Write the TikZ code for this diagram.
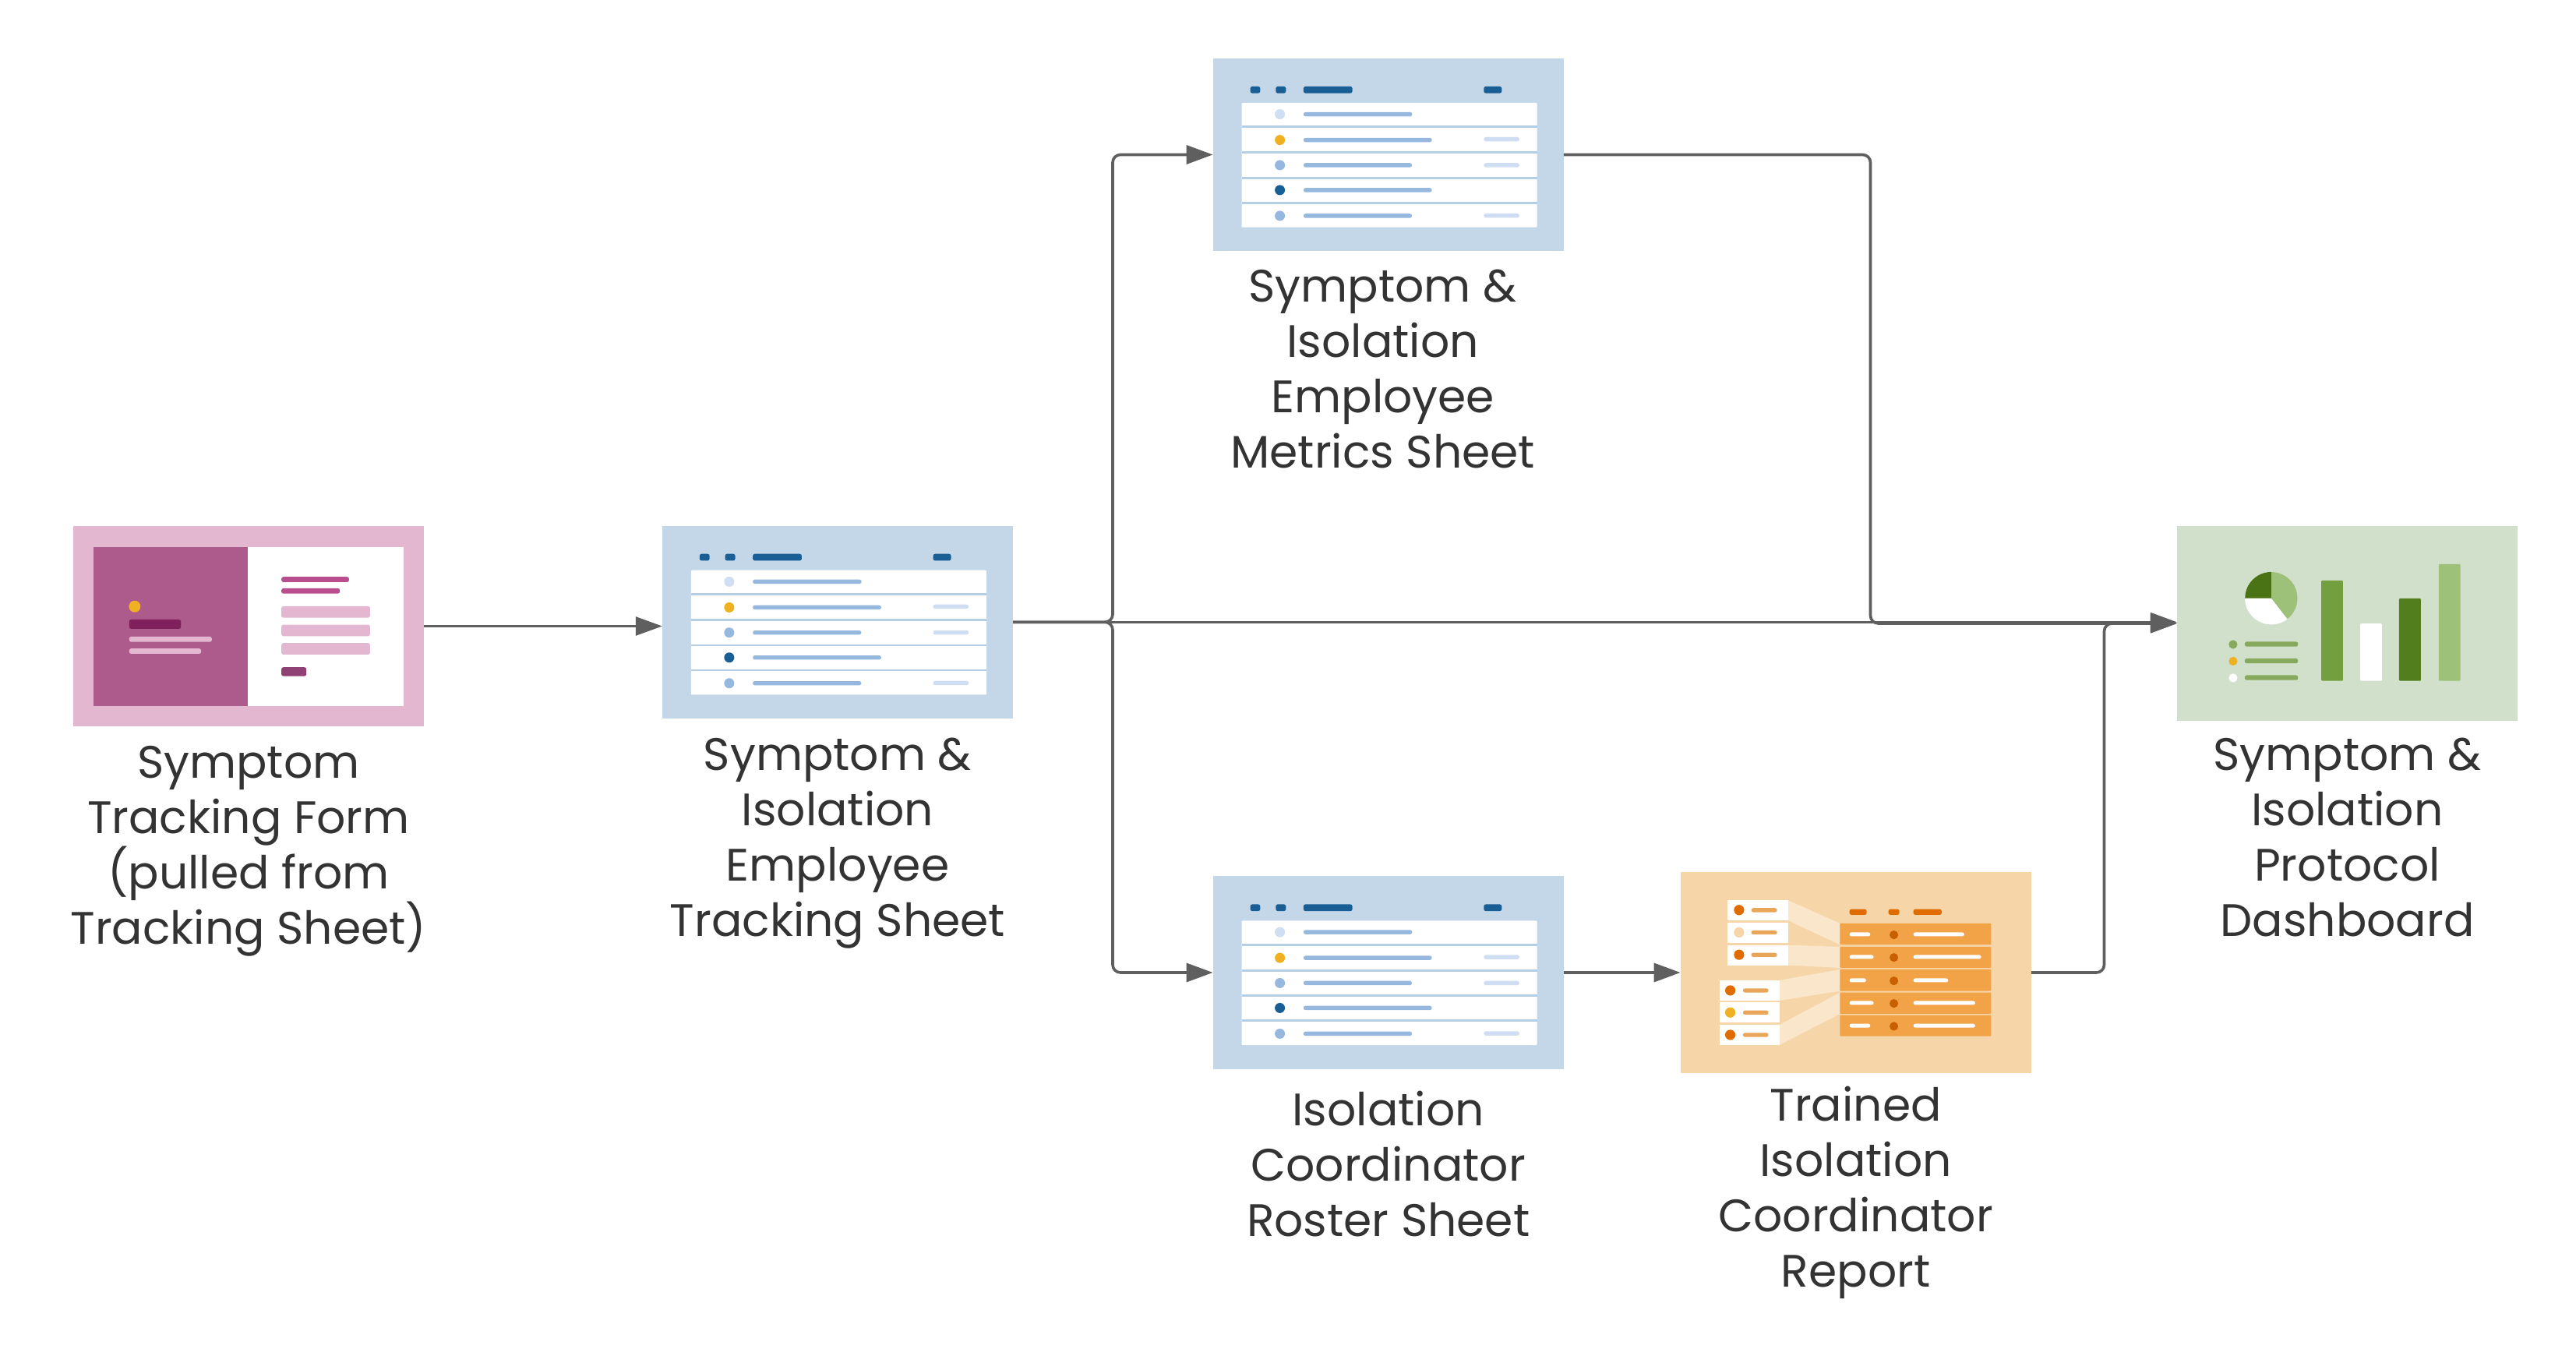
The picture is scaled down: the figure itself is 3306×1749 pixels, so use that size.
\documentclass[tikz,border=0pt]{standalone}
\usepackage{fontspec}
\setmainfont{Poppins}
\usetikzlibrary{arrows.meta, positioning}

\definecolor{inkgrey}{HTML}{333333}
\definecolor{flowgrey}{HTML}{5F5F5F}
\definecolor{goldy}{HTML}{EFB021}
\definecolor{formlight}{HTML}{E3B7D0}
\definecolor{formmid}{HTML}{AD5A8C}
\definecolor{formdark}{HTML}{7F205C}
\definecolor{formline}{HTML}{B94D8E}
\definecolor{formbtn}{HTML}{8F4074}
\definecolor{sheetbg}{HTML}{C3D7E8}
\definecolor{sheetdark}{HTML}{1A5E96}
\definecolor{sheetline}{HTML}{96B8DF}
\definecolor{sheetpale}{HTML}{CFDEF2}
\definecolor{sheetrule}{HTML}{B4CEE8}
\definecolor{reportbg}{HTML}{F6D6A8}
\definecolor{reportmid}{HTML}{F2A247}
\definecolor{reportdeep}{HTML}{E06C00}
\definecolor{reportdot}{HTML}{C96000}
\definecolor{reportwedge}{HTML}{F9E6CB}
\definecolor{reportline}{HTML}{EAA658}
\definecolor{dashbg}{HTML}{D1E0CB}
\definecolor{dashmid}{HTML}{739F3F}
\definecolor{dashdark}{HTML}{527E1E}
\definecolor{dashpie}{HTML}{4A7316}
\definecolor{dashlight}{HTML}{9DC178}
\definecolor{dashline}{HTML}{86A95C}

\tikzset{
  panel/.style={inner sep=0pt, outer sep=0pt, minimum width=#1},
  caption/.style={align=center, text=inkgrey, inner sep=0pt, font=\fontsize{16.6}{20.2}\selectfont},
  flow/.style={draw=flowgrey, line width=0.036cm, rounded corners=0.1cm, -{Triangle[length=0.34cm,width=0.24cm]}},
  flowthin/.style={draw=flowgrey, line width=0.027cm, -{Triangle[length=0.34cm,width=0.24cm]}},
  pill/.style={rounded corners=0.025cm}
}

% blue table thumbnail
\newcommand{\sheeticon}[1]{
  \begin{scope}[shift={(#1.north west)}]
    \fill[sheetdark,pill] (48,36) rectangle (60.7,44.7);
    \fill[sheetdark,pill] (80.7,36) rectangle (93.7,44.7);
    \fill[sheetdark,pill] (116.3,36) rectangle (179,44.7);
    \fill[sheetdark,pill] (347.7,36) rectangle (370.7,44.7);
    \fill[white,rounded corners=0.01cm] (37,57) rectangle (416,216.7);
    \foreach \ruley in {87.8,120.7,153.3,185.3}
      \fill[sheetrule] (37,\ruley-1.4) rectangle (416,\ruley+1.4);
    \foreach \rowy/\rowcol/\rowend in {71.7/sheetpale/255.7,104.7/goldy/281,137/sheetline/255.4,169/sheetdark/281,202/sheetline/255.4} {
      \fill[\rowcol] (86,\rowy) circle (0.065cm);
      \fill[sheetline,pill] (116.3,\rowy-2.7) rectangle (\rowend,\rowy+2.7);
    }
    \foreach \rowy in {103.7,137,201.7}
      \fill[sheetpale,pill] (347.7,\rowy-2.7) rectangle (393.3,\rowy+2.7);
  \end{scope}
}

\begin{document}
\begin{tikzpicture}[x=0.01cm, y=-0.01cm]
  \useasboundingbox (0,0) rectangle (3306,1749);

  \node[panel=4.5cm, minimum height=2.57cm, fill=formlight] (form) at (319,803.5) {};
  \node[panel=4.5cm, minimum height=2.47cm, fill=sheetbg] (tracking) at (1075,798.3) {};
  \node[panel=4.5cm, minimum height=2.47cm, fill=sheetbg] (metrics) at (1781.7,198.5) {};
  \node[panel=4.5cm, minimum height=2.47cm, fill=sheetbg] (roster) at (1781.7,1248) {};
  \node[panel=4.5cm, minimum height=2.58cm, fill=reportbg] (report) at (2381.7,1248) {};
  \node[panel=4.37cm, minimum height=2.5cm, fill=dashbg] (dash) at (3012.5,800) {};

  \node[caption, below=0.24cm of form] (formtxt) {Symptom\\Tracking Form\\(pulled from\\Tracking Sheet)};
  \node[caption, below=0.24cm of tracking] (trackingtxt) {Symptom \&\\Isolation\\Employee\\Tracking Sheet};
  \node[caption, below=0.23cm of metrics, xshift=-0.07cm] (metricstxt) {Symptom \&\\Isolation\\Employee\\Metrics Sheet};
  \node[caption, below=0.28cm of roster] (rostertxt) {Isolation\\Coordinator\\Roster Sheet};
  \node[caption, below=0.16cm of report] (reporttxt) {Trained\\Isolation\\Coordinator\\Report};
  \node[caption, below=0.21cm of dash] (dashtxt) {Symptom \&\\Isolation\\Protocol\\Dashboard};

  % form thumbnail
  \begin{scope}[shift={(form.north west)}]
    \fill[formmid] (26,27) rectangle (224,231);
    \fill[white] (224,27) rectangle (424.5,231);
    \fill[goldy] (79,103.3) circle (0.075cm);
    \fill[formdark,pill] (72,120) rectangle (138.3,132);
    \fill[formlight,pill] (72,142) rectangle (178,148.7);
    \fill[formlight,pill] (72,157.3) rectangle (164.3,164);
    \fill[formline,pill] (267.3,65.3) rectangle (354,72);
    \fill[formline,pill] (267.3,80) rectangle (342.3,86.7);
    \foreach \rowy in {103,126.7,150.3}
      \fill[formlight,pill] (267.3,\rowy) rectangle (381,\rowy+14.7);
    \fill[formbtn,pill] (267.3,181.3) rectangle (299.3,192.7);
  \end{scope}

  \sheeticon{tracking}
  \sheeticon{metrics}
  \sheeticon{roster}

  % report thumbnail
  \begin{scope}[shift={(report.north west)}]
    \fill[reportwedge] (138.3,36.3) -- (204.7,66) -- (204.7,93.3) -- (138.3,62.3) -- cycle;
    \fill[reportwedge] (138.3,93.7) -- (204.7,96) -- (204.7,123) -- (138.3,119.7) -- cycle;
    \fill[reportwedge] (127.3,139) -- (204.7,125) -- (204.7,152.7) -- (127.3,165) -- cycle;
    \fill[reportwedge] (127.3,196) -- (204.7,154.7) -- (204.7,182) -- (127.3,222) -- cycle;
    \foreach \cardy/\cardcol in {36.3/reportdeep,65/reportbg,93.7/reportdeep} {
      \fill[white] (60.3,\cardy) rectangle (138.3,\cardy+26);
      \fill[\cardcol] (75.3,\cardy+12.5) circle (0.066cm);
      \fill[reportline,pill] (91,\cardy+10) rectangle (124,\cardy+15.3);
    }
    \foreach \cardy/\cardcol in {139/reportdeep,167.3/goldy,196/reportdeep} {
      \fill[white] (50,\cardy) rectangle (127.3,\cardy+26);
      \fill[\cardcol] (64,\cardy+13) circle (0.066cm);
      \fill[reportline,pill] (80.3,\cardy+10.4) rectangle (113,\cardy+15.7);
    }
    \fill[reportdeep,pill] (217,47.7) rectangle (239,55);
    \fill[reportdeep,pill] (267,47.7) rectangle (281,55);
    \fill[reportdeep,pill] (299,47.7) rectangle (335.3,55);
    \foreach \rowtop/\rowbot/\rowy/\lefte/\righte in {66/93.3/80/243.7/364.3,96/123/109/248/386,125/152.7/139/238.3/343.7,154.7/182/168/248/378.3,183.7/210.7/197.3/243.7/378.3} {
      \fill[reportmid,rounded corners=0.01cm] (204.7,\rowtop) rectangle (398.7,\rowbot);
      \fill[white,pill] (217,\rowy-2.5) rectangle (\lefte,\rowy+2.5);
      \fill[reportdot] (274,\rowy+0.7) circle (0.056cm);
      \fill[white,pill] (299,\rowy-2.5) rectangle (\righte,\rowy+2.5);
    }
  \end{scope}

  % dashboard thumbnail
  \begin{scope}[shift={(dash.north west)}]
    \fill[white] (121,92.7) circle (0.337cm);
    \fill[dashlight] (121,92.7) -- (121,59) arc[start angle=90, end angle=-52, radius=0.337cm] -- cycle;
    \fill[dashpie] (121,92.7) -- (87.3,92.7) arc[start angle=180, end angle=90, radius=0.337cm] -- cycle;
    \foreach \rowy/\rowcol in {152/dashline,173.5/goldy,195/white} {
      \fill[\rowcol] (72,\rowy) circle (0.056cm);
      \fill[dashline,pill] (87,\rowy-3.5) rectangle (155.3,\rowy+2.8);
    }
    \fill[dashmid,rounded corners=0.01cm] (185.3,70) rectangle (213,198.7);
    \fill[white,rounded corners=0.01cm] (235.3,125.3) rectangle (263,198.7);
    \fill[dashdark,rounded corners=0.01cm] (285,93) rectangle (313,198.7);
    \fill[dashlight,rounded corners=0.01cm] (336,49) rectangle (363.7,198.7);
  \end{scope}

  \coordinate (branch) at (1428,798.3);
  \coordinate (merge) at (2400.5,800);
  \coordinate (join) at (2700.5,800);

  \draw[flowthin] (form.east) -- (form.east -| tracking.west);
  \draw[flow] (tracking.east) -- (tracking.east -| dash.west);
  \draw[flow] (tracking.east) -- (branch) |- (metrics.west);
  \draw[flow] (tracking.east) -- (branch) |- (roster.west);
  \draw[flow] (roster.east) -- (report.west);
  \draw[flow] (metrics.east) -| (merge) -- (dash.west);
  \draw[flow] (report.east) -| (join) -- (dash.west);
\end{tikzpicture}
\end{document}
